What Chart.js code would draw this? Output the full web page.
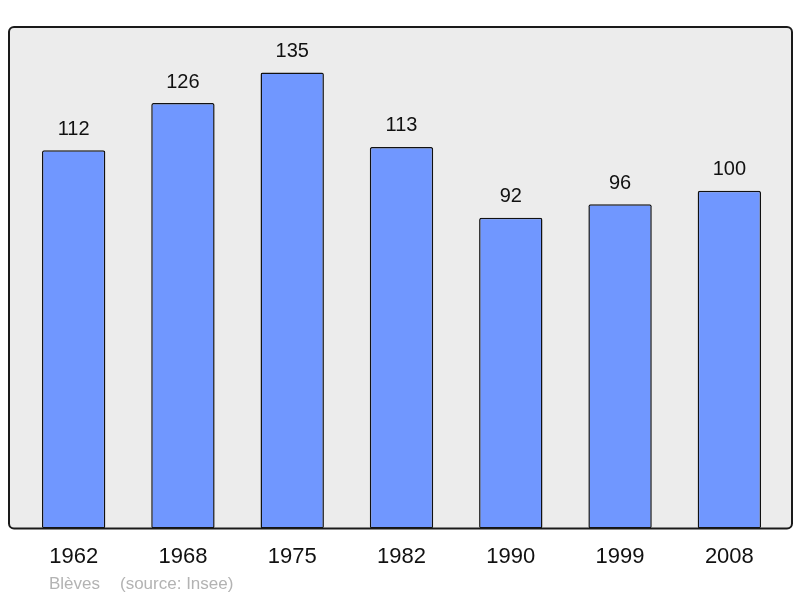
<!DOCTYPE html>
<html>
<head>
<meta charset="utf-8">
<script src="https://cdn.jsdelivr.net/npm/chart.js@4/dist/chart.umd.min.js"></script>
<style>
  html, body { margin: 0; padding: 0; background: #ffffff; }
  #wrap { width: 800px; height: 598px; }
</style>
</head>
<body>
<div id="wrap"><canvas id="bar-chart" width="800" height="598"></canvas></div>
<script>
var years = ["1962", "1968", "1975", "1982", "1990", "1999", "2008"];
var population = [112, 126, 135, 113, 92, 96, 100];
var placeName = "Blèves";
var sourceText = "(source: Insee)";

// grey frame behind the bars, a bit wider than the chart area
var frame = {
  id: 'frame',
  beforeDraw: function (chart) {
    var a = chart.chartArea, ctx = chart.ctx;
    var x0 = a.left - 10, x1 = a.right + 8, y0 = a.top, y1 = a.bottom;
    ctx.save();
    ctx.beginPath();
    ctx.roundRect(x0, y0, x1 - x0, y1 - y0, 5);
    ctx.fillStyle = '#ececec';
    ctx.fill();
    ctx.restore();
  },
  afterDatasetsDraw: function (chart) {
    var a = chart.chartArea, ctx = chart.ctx;
    var x0 = a.left - 10, x1 = a.right + 8, y0 = a.top, y1 = a.bottom;
    ctx.save();
    ctx.beginPath();
    ctx.roundRect(x0, y0, x1 - x0, y1 - y0, 5);
    ctx.lineWidth = 2;
    ctx.strokeStyle = '#1a1a1a';
    ctx.stroke();

    // values above bars
    ctx.font = '20px "Liberation Sans", Arial, sans-serif';
    ctx.fillStyle = '#111111';
    ctx.textAlign = 'center';
    ctx.textBaseline = 'middle';
    chart.getDatasetMeta(0).data.forEach(function (bar, i) {
      ctx.fillText(population[i], bar.x, bar.y - 21);
    });

    // source line
    ctx.font = '17px "Liberation Sans", Arial, sans-serif';
    ctx.fillStyle = '#b3b3b3';
    ctx.textAlign = 'left';
    ctx.fillText(placeName, 49, 584);
    ctx.fillText(sourceText, 120, 584);
    ctx.restore();
  }
};

new Chart(document.getElementById("bar-chart"), {
  type: 'bar',
  data: {
    labels: years,
    datasets: [{
      data: population,
      backgroundColor: "#7097ff",
      borderColor: "#111111",
      borderWidth: 1.5,
      borderRadius: 2,
      borderSkipped: false,
      barPercentage: 0.58,
      categoryPercentage: 1
    }]
  },
  options: {
    responsive: false,
    animation: false,
    layout: {
      padding: { left: 19, right: 16, top: 27, bottom: 13 }
    },
    plugins: {
      legend: { display: false },
      tooltip: { enabled: false }
    },
    scales: {
      x: {
        grid: { display: false, drawTicks: false },
        border: { display: false },
        ticks: {
          color: '#111111',
          padding: 15,
          font: { size: 22, family: '"Liberation Sans", Arial, sans-serif' }
        }
      },
      y: {
        display: false,
        min: 0,
        max: 148.5
      }
    }
  },
  plugins: [frame]
});
</script>
</body>
</html>
